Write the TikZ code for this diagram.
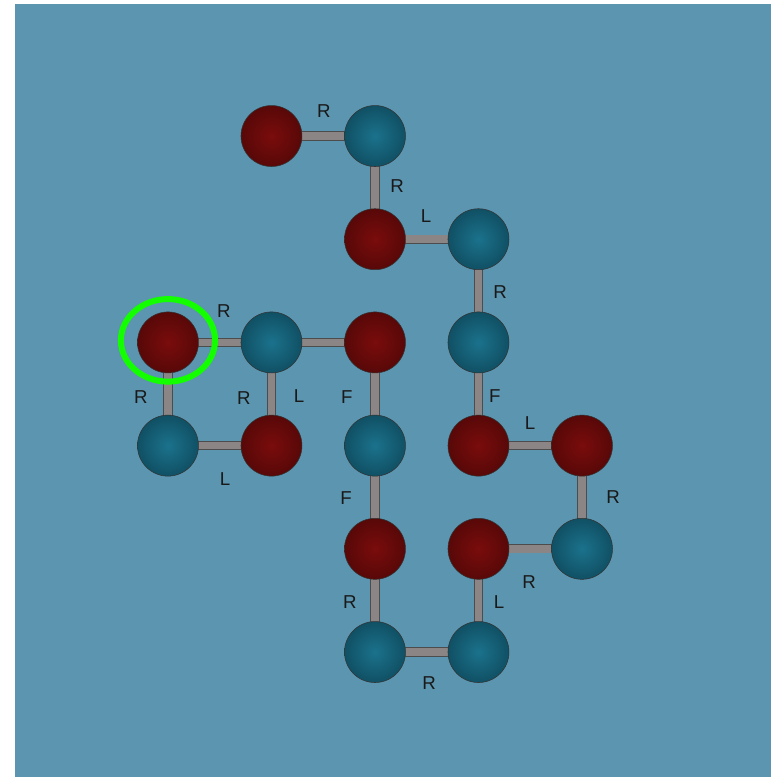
\documentclass[tikz,border=0pt]{standalone}
\usepackage{fontspec}
\setmainfont{Liberation Sans}
\usetikzlibrary{backgrounds}

\definecolor{seablue}{RGB}{91,149,176}
\definecolor{hred}{RGB}{122,12,12}
\definecolor{hreddark}{RGB}{88,8,8}
\definecolor{pblue}{RGB}{27,114,140}
\definecolor{pbluedark}{RGB}{16,80,100}
\definecolor{bondgray}{RGB}{140,133,133}

\pgfdeclarelayer{canvas}
\pgfsetlayers{canvas,background,main}

\begin{document}
\begin{tikzpicture}[x=77.625pt, y=-77.4pt]
    \tikzstyle{bead}=[circle,minimum size=45.75pt,inner sep=0pt,draw=black!80,line width=0.4pt,shading=radial]
    \tikzstyle{h bead}=[bead, inner color=hred, outer color=hreddark];
    \tikzstyle{p bead}=[bead, inner color=pblue, outer color=pbluedark];
    \tikzstyle{bond}=[draw=black!70,line width=0.6pt,double=bondgray,double distance=5.6pt];
    \tikzstyle{turn}=[font=\fontsize{14pt}{14pt}\selectfont,text=black!90];

    % Frame and canvas
    \useasboundingbox (-1.623,-1.318) rectangle (5.826,6.211);
    \begin{pgfonlayer}{canvas}
        \fill[seablue] (-1.478,-1.279) rectangle (5.826,6.211);
    \end{pgfonlayer}

    % Hydrophobic beads
    \foreach \name / \x / \y in {1/0/2,3/1/3,5/2/2,7/2/4,10/3/4,12/4/3,13/3/3,16/2/1,18/1/0}
        \node[h bead] (B-\name) at (\x,\y) {};

    % Polar beads
    \foreach \name / \x / \y in {2/0/3,4/1/2,6/2/3,8/2/5,9/3/5,11/4/4,14/3/2,15/3/1,17/2/0}
        \node[p bead] (B-\name) at (\x,\y) {};

    % Bonds along the chain, behind the beads
    \begin{scope}[on background layer]
        \foreach \source [evaluate=\source as \dest using int(\source+1)] in {1,...,17}
            \path[bond] (B-\source.center) -- (B-\dest.center);
        \path[bond] (B-1.center) -- (B-4.center);
    \end{scope}

    % Start marker
    \draw[green!90!lime, line width=4.5pt] (B-1) ++(0,-0.02) ellipse (0.455 and 0.4);

    % Turn labels
    \foreach \txt / \x / \y in {R/0.541/1.696, R/-0.261/2.529, R/0.734/2.539, L/1.266/2.519,
        F/1.729/2.529, L/0.551/3.324, F/1.720/3.508, R/1.507/-0.242, R/2.213/0.484,
        L/2.493/0.775, R/3.208/1.512, F/3.159/2.519, L/3.498/2.781, R/4.300/3.498,
        R/3.488/4.322, L/3.198/4.516, R/1.758/4.516, R/2.522/5.300}
        \node[turn] at (\x,\y) {\txt};
\end{tikzpicture}
\end{document}
